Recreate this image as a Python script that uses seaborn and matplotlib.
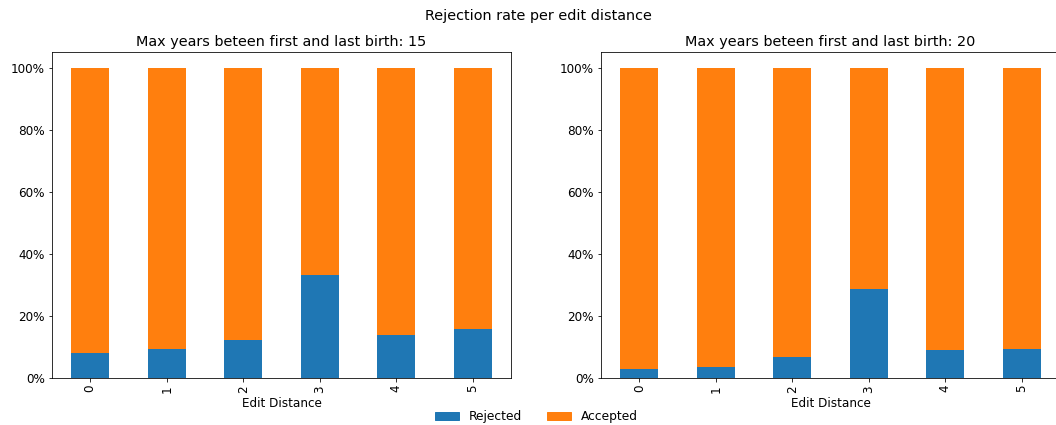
import numpy as np
import pandas as pd
import matplotlib
matplotlib.use("Agg")
import matplotlib.pyplot as plt
from matplotlib.ticker import PercentFormatter
from matplotlib.patches import Patch
import seaborn as sns

# rejection share per edit distance
edit_distance = [0, 1, 2, 3, 4, 5]
rejected_15 = [0.081, 0.093, 0.123, 0.332, 0.139, 0.158]
rejected_20 = [0.030, 0.034, 0.068, 0.286, 0.089, 0.093]
max_years = [15, 20]

blue = "#1f77b4"
orange = "#ff7f0e"

plt.rcParams["font.size"] = 12

fig = plt.figure(figsize=(1056 / 72, 425 / 72), dpi=72)
ax_left = fig.add_axes([52 / 1056, 47 / 425, 459 / 1056, 326 / 425])
ax_right = fig.add_axes([601 / 1056, 47 / 425, 459 / 1056, 326 / 425])

for ax, rej, yrs in zip([ax_left, ax_right], [rejected_15, rejected_20], max_years):
    df = pd.DataFrame({"Edit Distance": edit_distance, "Rejected": rej})
    df["Accepted"] = 1 - df["Rejected"]
    df["Total"] = df["Rejected"] + df["Accepted"]
    # stacked look: full bar in orange, rejected part drawn on top in blue
    sns.barplot(data=df, x="Edit Distance", y="Total", color=orange, width=0.5,
                saturation=1, linewidth=0, ax=ax)
    sns.barplot(data=df, x="Edit Distance", y="Rejected", color=blue, width=0.5,
                saturation=1, linewidth=0, ax=ax)
    ax.set_xlim(-0.5, len(edit_distance) - 0.5)
    ax.set_ylim(0, 1.05)
    ax.set_yticks(np.arange(0, 1.01, 0.2))
    ax.yaxis.set_major_formatter(PercentFormatter(1.0, decimals=0))
    ax.tick_params(axis="x", labelrotation=90)
    ax.set_xlabel("Edit Distance", labelpad=4)
    ax.set_ylabel("")
    ax.set_title("Max years beteen first and last birth: " + str(yrs), fontsize=14.4)

fig.suptitle("Rejection rate per edit distance", x=0.51, y=0.978, fontsize=14.4)
handles = [Patch(color=blue, label="Rejected"), Patch(color=orange, label="Accepted")]
fig.legend(handles=handles, loc="lower center", ncol=2, frameon=False,
           bbox_to_anchor=(0.508, -0.022), fontsize=12.3)

fig.savefig("out.png", dpi=72)
